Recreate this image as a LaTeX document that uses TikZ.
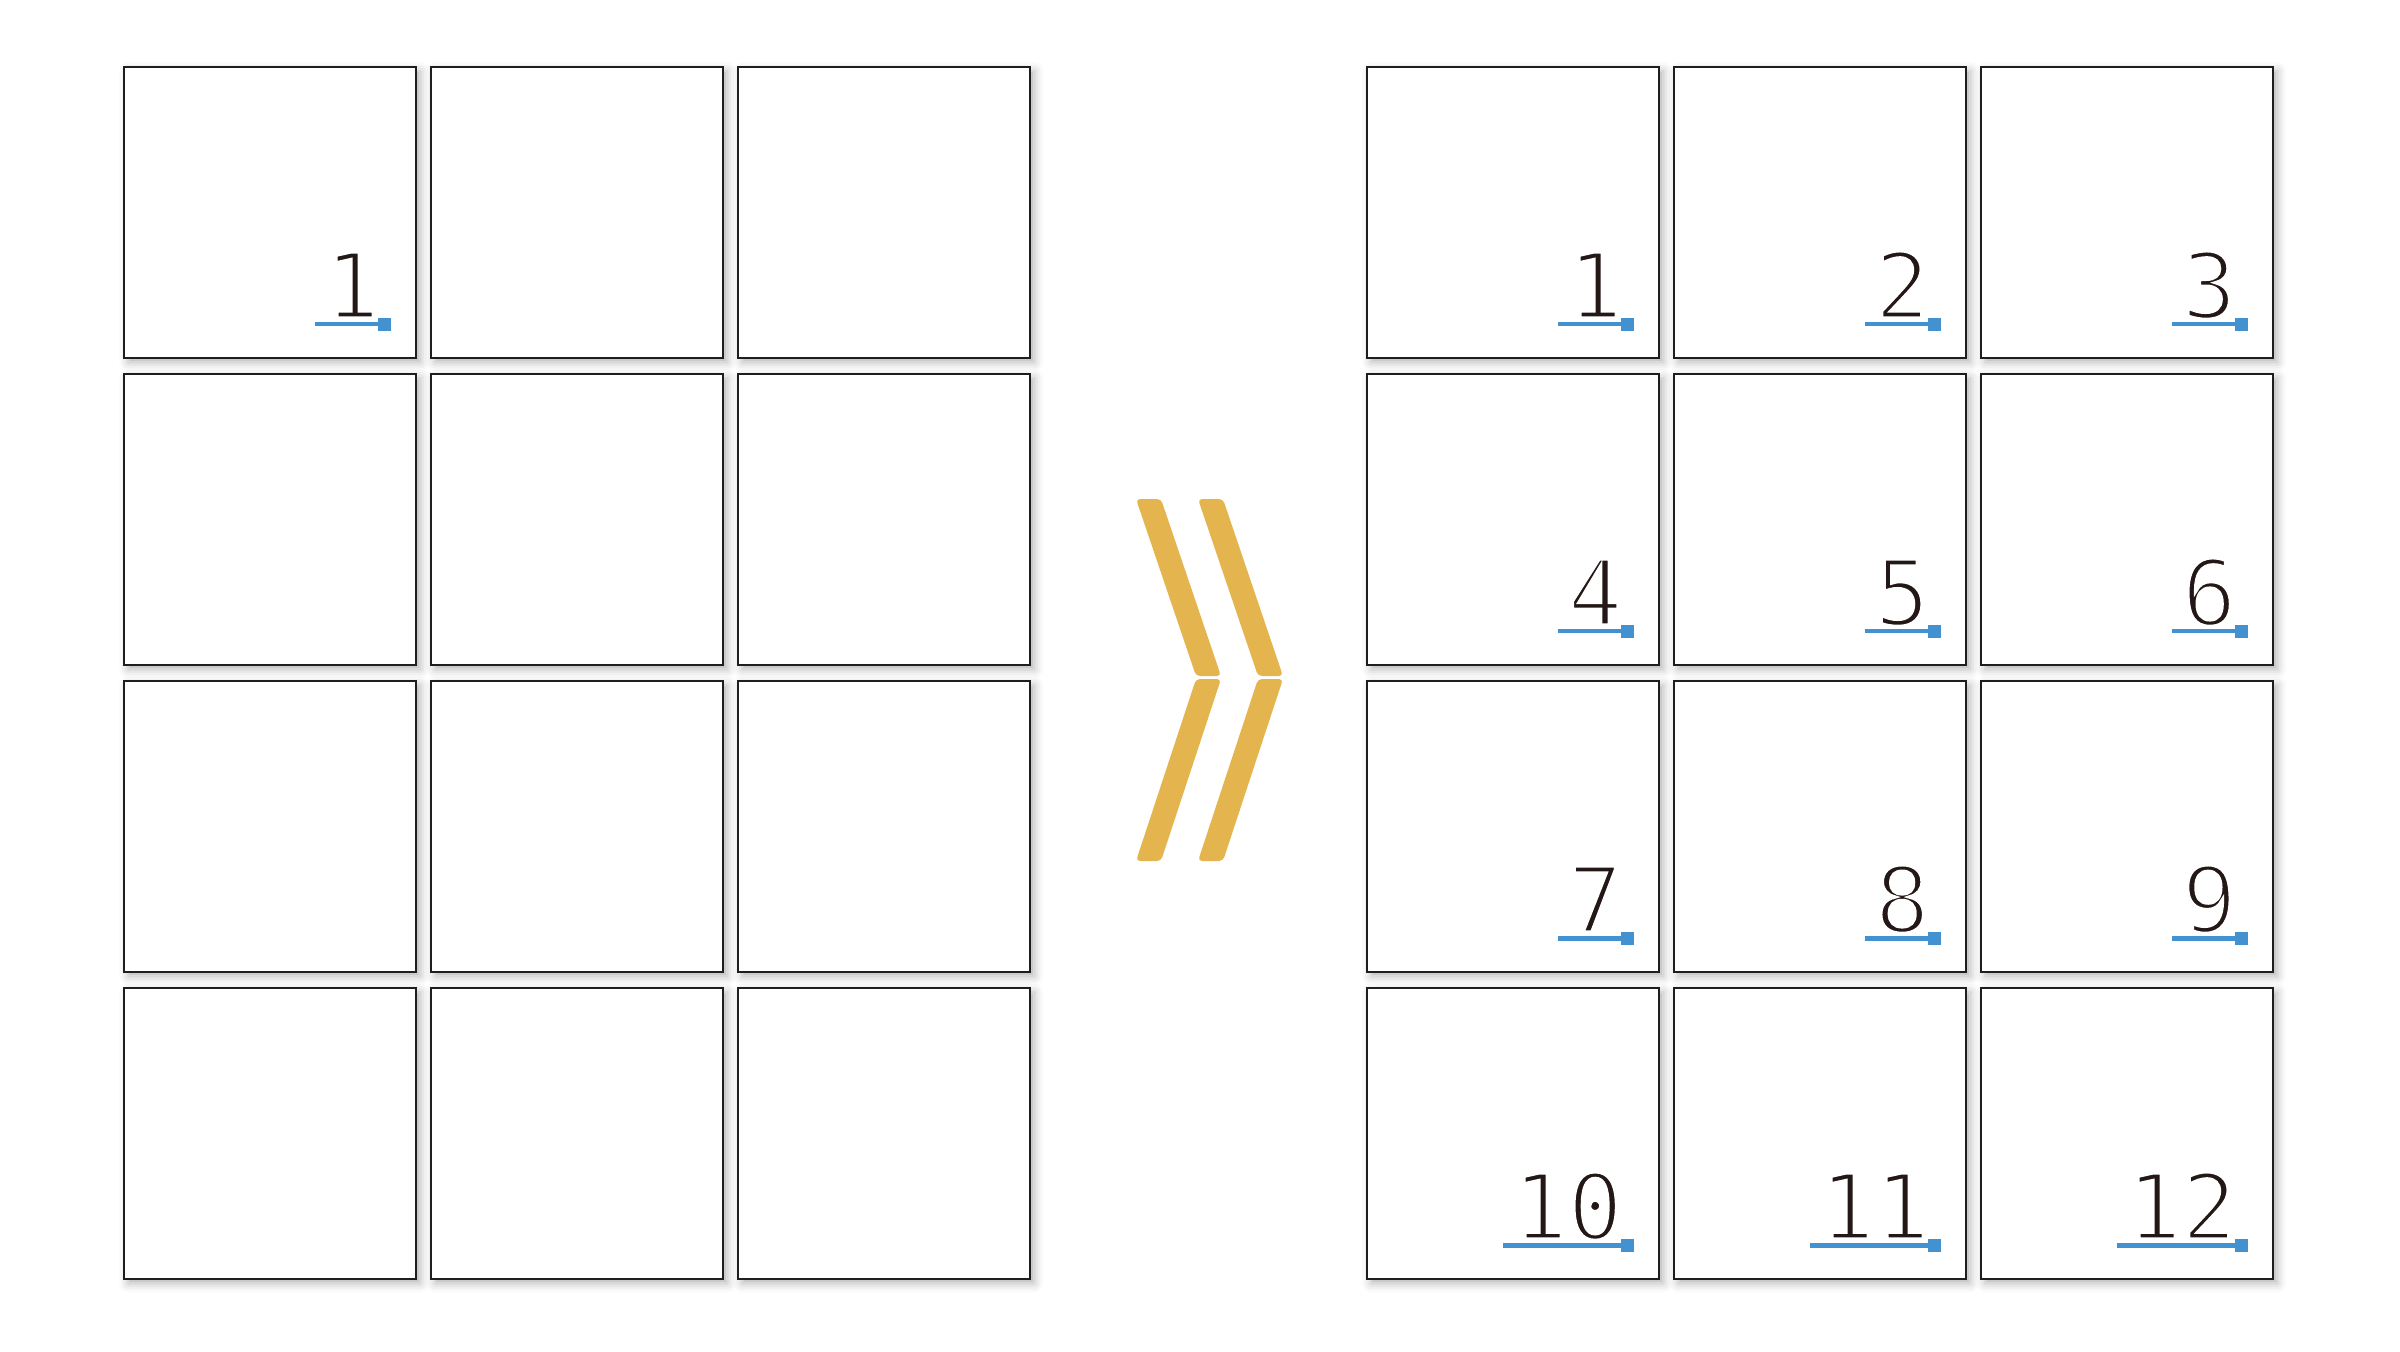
\documentclass[tikz,border=0pt]{standalone}
\usepackage{fontspec}
\newfontfamily\numfont{DejaVu Sans Mono}
\usetikzlibrary{positioning}
\usetikzlibrary{calc}
\usetikzlibrary{shadows.blur}
\definecolor{cardline}{HTML}{1E1E1E}
\definecolor{tagblue}{HTML}{4291D0}
\definecolor{chevgold}{HTML}{E4B44E}
\definecolor{numink}{HTML}{231815}
\newcommand\thinnum[1]{\special{pdf:literal direct 2 Tr 1 1 1 RG 1.1 w}#1\special{pdf:literal direct 0 Tr}}

\tikzset{
 card/.style={draw=cardline,line width=0.75pt,fill=white,minimum width=2.92cm,minimum height=2.91cm,inner sep=0pt,
   blur shadow={shadow xshift=1.2pt,shadow yshift=-1.2pt,shadow blur radius=2.5pt,shadow opacity=30}},
 cardnum/.style={anchor=base east,inner sep=0pt,text=numink,font=\numfont\fontsize{26}{26}\selectfont},
 tagline/.style={tagblue,line width=0.042cm},
 chev/.style={fill=chevgold,rounded corners=0.04cm}
}

\begin{document}
\begin{tikzpicture}[x=0.01cm,y=-0.01cm]
 \useasboundingbox (0,0) rectangle (2400,1351);
 \foreach \r in {0,...,3}
  \foreach \c in {0,...,2}{
   \pgfmathtruncatemacro{\k}{3*\r+\c+1}
   \node[card] (L\k) at (270+307*\c,212.5+307*\r) {};
   \node[card] (R\k) at (1513+307*\c,212.5+307*\r) {};
  }
 \node[cardnum] (m1) at ([xshift=-0.37cm,yshift=0.41cm]L1.south east) {\thinnum{1}};
 \coordinate (s1) at ([xshift=-0.26cm,yshift=0.35cm]L1.south east);
 \draw[tagline] ($(m1.base west |- s1)+(-9,0)$) -- (s1);
 \fill[tagblue] ([xshift=-0.13cm,yshift=-0.065cm]s1) rectangle ([yshift=0.065cm]s1);
 \foreach \k in {1,...,12}{
  \node[cardnum] (n\k) at ([xshift=-0.37cm,yshift=0.41cm]R\k.south east) {\thinnum{\k}};
  \coordinate (t\k) at ([xshift=-0.26cm,yshift=0.35cm]R\k.south east);
  \draw[tagline] ($(n\k.base west |- t\k)+(-9,0)$) -- (t\k);
  \fill[tagblue] ([xshift=-0.13cm,yshift=-0.065cm]t\k) rectangle ([yshift=0.065cm]t\k);
 }
 \foreach \dx in {0,62}{
  \fill[chev] (1136+\dx,499) -- (1161+\dx,499) -- (1221+\dx,676) -- (1196+\dx,676) -- cycle;
  \fill[chev] (1196+\dx,679) -- (1221+\dx,679) -- (1161+\dx,861) -- (1136+\dx,861) -- cycle;
 }
\end{tikzpicture}
\end{document}
